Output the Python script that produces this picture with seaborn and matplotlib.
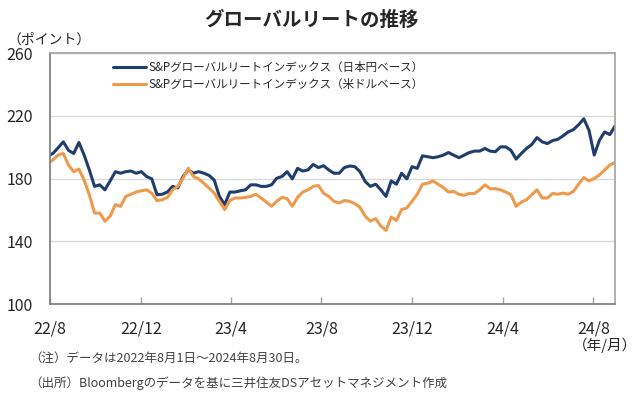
import numpy as np
import pandas as pd
import seaborn as sns
import matplotlib.pyplot as plt

# 週次(金曜)の読み取り値、先頭は2022/8/1
dates = pd.date_range("2022-08-05", "2024-08-30", freq="W-FRI").insert(0, pd.Timestamp("2022-08-01"))

jpy_base = [
    195.0, 196.0, 199.6, 203.4, 198.0, 196.0, 203.0, 195.0, 185.5, 175.0,
    176.0, 172.8, 178.5, 184.4, 183.4, 184.4, 184.8, 183.4, 184.4, 181.3,
    179.8, 169.7, 170.0, 171.4, 175.0, 174.0, 181.3, 185.5, 183.4, 184.4,
    183.4, 182.0, 179.0, 168.6, 163.4, 171.4, 171.4, 172.2, 172.8, 176.0,
    176.0, 175.0, 175.0, 176.0, 180.2, 181.3, 184.4, 179.8, 186.5, 184.8,
    185.5, 189.0, 187.0, 188.2, 185.5, 183.4, 183.4, 187.0, 188.0, 187.6,
    184.4, 178.1, 175.0, 176.4, 172.8, 168.6, 178.5, 176.4, 183.4, 179.8,
    187.6, 186.5, 194.5, 193.9, 193.3, 193.9, 194.9, 196.6, 194.9, 193.3,
    194.9, 196.6, 197.5, 197.5, 199.2, 197.5, 197.1, 200.2, 200.2, 198.0,
    192.4, 196.0, 199.2, 201.7, 206.1, 203.4, 202.3, 204.2, 205.0, 207.2,
    209.7, 211.2, 214.3, 218.1, 210.7, 195.0, 204.4, 209.7, 208.0, 213.5,
]
usd_base = [
    190.7, 191.8, 195.0, 196.0, 188.6, 184.4, 186.0, 179.0, 169.7, 158.0,
    158.0, 152.8, 156.0, 163.4, 162.3, 168.6, 170.0, 171.4, 172.2, 172.8,
    170.7, 165.9, 166.5, 168.0, 172.8, 175.0, 180.2, 186.5, 181.3, 179.8,
    177.0, 173.9, 170.7, 165.5, 160.2, 166.0, 167.6, 167.6, 168.0, 168.6,
    170.0, 167.6, 165.0, 162.3, 165.5, 168.0, 167.2, 162.3, 168.0, 171.4,
    172.8, 175.0, 175.6, 170.7, 168.6, 165.5, 164.4, 166.0, 165.5, 164.0,
    161.7, 156.0, 152.8, 154.5, 149.7, 147.0, 155.4, 153.3, 160.2, 161.3,
    165.5, 170.0, 176.4, 177.0, 178.5, 176.4, 174.3, 171.4, 171.8, 170.0,
    169.3, 170.5, 170.5, 172.8, 176.0, 173.5, 173.5, 172.8, 171.4, 169.7,
    162.3, 165.0, 166.5, 169.7, 172.8, 167.6, 167.6, 170.5, 170.0, 170.7,
    170.0, 171.8, 176.4, 180.6, 178.5, 180.0, 182.3, 185.5, 188.6, 190.3,
]

series_names = ["S&Pグローバルリートインデックス（日本円ベース）",
                "S&Pグローバルリートインデックス（米ドルベース）"]
colors = ["#1F3E6E", "#EE9A4D"]

tick_dates = pd.to_datetime(["2022-08-01", "2022-12-01", "2023-04-01", "2023-08-01",
                             "2023-12-01", "2024-04-01", "2024-08-01"])
tick_labels = ["22/8", "22/12", "23/4", "23/8", "23/12", "24/4", "24/8"]

df = pd.DataFrame({
    "date": list(dates) * 2,
    "value": jpy_base + usd_base,
    "series": [series_names[0]] * len(dates) + [series_names[1]] * len(dates),
})

sns.set_theme(style="white")
plt.rcParams['font.family'] = ['Noto Sans CJK JP', 'DejaVu Sans']

fig = plt.figure(figsize=(6.4, 3.99), dpi=100)
ax = fig.add_axes([0.078, 0.238, 0.883, 0.629])

sns.lineplot(data=df, x="date", y="value", hue="series", palette=colors,
             linewidth=2.2, ax=ax)

ax.set_xlim(pd.Timestamp("2022-08-01"), pd.Timestamp("2024-08-30"))
ax.set_ylim(100, 260)
ax.set_yticks([100, 140, 180, 220, 260])
ax.set_xticks(tick_dates)
ax.set_xticklabels(tick_labels)
ax.set_xlabel("")
ax.set_ylabel("")
ax.grid(axis="y", color="#D9D9D9", linewidth=1)
ax.tick_params(axis="x", direction="in", length=5, width=1, color="#A0A0A0",
               labelsize=11.5, pad=12, bottom=True)
ax.tick_params(axis="y", length=0, labelsize=11.5, pad=12)

for s in ["left", "bottom"]:
    ax.spines[s].set_color("#7F7F7F")
for s in ["top", "right"]:
    ax.spines[s].set_color("#A6A6A6")

ax.legend(loc="upper left", bbox_to_anchor=(0.097, 1.0), frameon=False,
          fontsize=8.3, handlelength=2.9, handletextpad=0.15, labelspacing=0.35,
          borderaxespad=0.3)

fig.text(0.487, 0.95, "グローバルリートの推移", ha="center", va="center",
         fontsize=14, fontweight="bold")
fig.text(0.012, 0.9, "（ポイント）", ha="left", va="center", fontsize=10)
fig.text(0.995, 0.135, "（年/月）", ha="right", va="center", fontsize=10.5)
fig.text(0.045, 0.103, "（注）データは2022年8月1日～2024年8月30日。",
         ha="left", va="center", fontsize=9, color="#404040")
fig.text(0.045, 0.04, "（出所）Bloombergのデータを基に三井住友DSアセットマネジメント作成",
         ha="left", va="center", fontsize=9, color="#404040")

fig.savefig("out.png", dpi=100)
